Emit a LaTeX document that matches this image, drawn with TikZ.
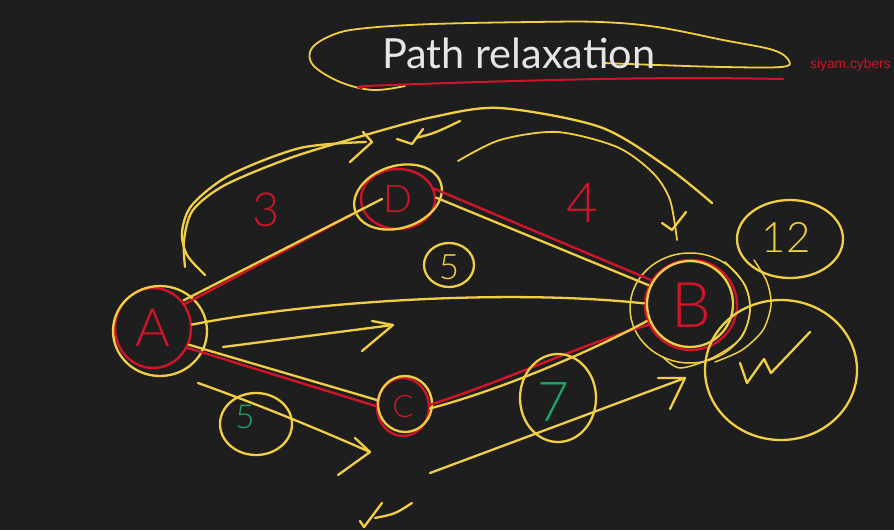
\documentclass[tikz,border=0pt]{standalone}
\usepackage{fontspec}
\usetikzlibrary{shapes.geometric}
\setmainfont{Lato}
\newfontfamily\hand{Lato Light}
\newfontfamily\wmfont{Liberation Sans}
\definecolor{bg}{HTML}{1E1E1E}
\definecolor{yel}{HTML}{F0CF45}
\definecolor{rd}{HTML}{D0142A}
\definecolor{grn}{HTML}{1FA468}
\definecolor{ttl}{HTML}{E6E6E6}
\begin{document}
\begin{tikzpicture}[x=1pt,y=-1pt,line cap=round,line join=round,
  ypen/.style={draw=yel,line width=2.3pt},
  ythin/.style={draw=yel,line width=1.5pt},
  rpen/.style={draw=rd,line width=2.4pt},
  vtx/.style={ellipse,draw=rd,line width=2.4pt,text=rd,inner sep=0pt},
  lbl/.style={inner sep=0pt}]
\fill[bg] (0,0) rectangle (894,530);
\useasboundingbox (0,0) rectangle (894,530);

% title
\draw[ythin,line width=1.8pt] plot[smooth,tension=0.6] coordinates {(405,86) (373,90) (340,82) (313,65) (312,48) (335,34) (367,28) (433,24) (533,22) (600,22) (657,27) (723,40) (773,50) (789,61) (781,67) (723,67) (657,65) (603,63)};
\draw[rpen,line width=2pt] plot[smooth] coordinates {(362,88) (367,86) (480,82) (600,79) (700,78) (783,79)};
\node[lbl,anchor=base west,text=ttl,font=\fontsize{41.5}{41.5}\selectfont] (title) at (382,68) {Path relaxation};
\node[lbl,anchor=base west,text=rd,font=\wmfont\fontsize{13.8}{13.8}\selectfont] (wm) at (810,68) {siyam.cybers};

% vertices
\node[vtx,minimum width=76pt,minimum height=80pt,font=\hand\fontsize{53}{53}\selectfont] (A) at (153,328) {A};
\node[vtx,minimum width=74pt,minimum height=60pt,font=\hand\fontsize{38}{38}\selectfont] (D) at (398,199) {D};
\node[vtx,minimum width=52pt,minimum height=58pt,font=\hand\fontsize{31}{31}\selectfont] (C) at (403,407) {C};
\node[vtx,minimum width=92pt,minimum height=90pt,font=\hand\fontsize{63}{63}\selectfont] (B) at (691,305) {B};

% yellow rings around vertices
\draw[ypen] (160,331) ellipse [x radius=47pt,y radius=45pt];
\draw[ypen,rotate around={18:(398,197)}] (398,197) ellipse [x radius=45pt,y radius=31pt];
\draw[ypen] (405,404) ellipse [x radius=27pt,y radius=28pt];
\draw[ypen] (690,304) ellipse [x radius=43pt,y radius=43pt];
\draw[ythin] (690,308) ellipse [x radius=60pt,y radius=55pt];
\draw[ythin] plot[smooth] coordinates {(725,262) (745,285) (750,310) (741,338) (712,358) (680,368) (663,357)};
\draw[ythin] plot[smooth] coordinates {(754,260) (767,282) (771,305) (763,330) (742,350) (715,362)};

% edges
\draw[rpen] (A.37) -- (D.196);
\draw[ypen] ([yshift=2pt]A.40) -- ([xshift=-16pt]D.center);
\draw[rpen] (D.16) -- (B.148);
\draw[ypen] (D.2) -- (B.155);
\draw[ypen] (A.5) .. controls (300,303) and (500,288) .. (B.178);
\draw[rpen] (A.-30) -- (C.178);
\draw[ypen] (A.-25) -- (C.165);
\draw[rpen] (C.5) .. controls (500,383) and (580,345) .. (B.205);
\draw[ypen] (C.-3) .. controls (500,390) and (590,352) .. (B.200);

% weights
\node[lbl,text=rd,font=\hand\fontsize{47}{47}\selectfont] (w3) at (266,210) {3};
\node[lbl,text=rd,font=\hand\fontsize{55}{55}\selectfont] (w4) at (582,203) {4};
\node[lbl,text=yel,font=\hand\fontsize{35}{35}\selectfont] (w5a) at (449,267) {5};
\draw[ypen] (449,265) ellipse [x radius=25pt,y radius=22pt];
\node[lbl,text=grn,font=\hand\fontsize{33}{33}\selectfont] (w5b) at (245,417) {5};
\draw[ypen] (256,424) ellipse [x radius=36pt,y radius=31pt];
\node[lbl,text=grn,font=\hand\fontsize{55}{55}\selectfont] (w7) at (553,402) {7};
\draw[ypen] (558,398) ellipse [x radius=38pt,y radius=44pt];
\node[lbl,text=yel,font=\hand\fontsize{42}{42}\selectfont] (w12) at (786,237) {12};
\draw[ypen] (790,239) ellipse [x radius=53pt,y radius=39pt];
\draw[ypen] (781,370) ellipse [x radius=76pt,y radius=70pt];
\draw[ypen] (740,363) -- (747,383) -- (764,359) -- (771,373) -- (810,332);

% arrows
\draw[ypen] (223,347) -- (393,325);
\draw[ypen] (372,321) -- (393,325) -- (362,351);
\draw[ypen] (198,383) .. controls (260,405) and (320,430) .. (370,452);
\draw[ypen] (355,438) -- (370,452) -- (338,475);
\draw[ypen] (430,473) -- (685,378);
\draw[ypen] (658,378) -- (685,378) -- (670,409);

% top arcs
\draw[ypen] plot[smooth] coordinates {(205,275) (187,255) (182,232) (192,205) (230,175) (300,148) (366,142)};
\draw[ypen] (363,132) -- (372,142) -- (350,162);
\draw[ypen] plot[smooth] coordinates {(185,267) (184,240) (193,210) (225,185) (290,158) (362,136) (433,117) (500,108) (600,127) (667,167) (712,203)};
\draw[ythin,line width=1.8pt] plot[smooth] coordinates {(458,161) (500,140) (557,132) (617,147) (653,173) (670,200) (677,240)};
\draw[ypen] (662,223) -- (672,230) -- (686,212);

% ticks
\draw[ypen] (397,139) -- (412,144) -- (423,129);
\draw[ypen] (416,138) .. controls (435,133) .. (460,121);
\draw[ypen] (360,521) -- (364,527) -- (382,503);
\draw[ypen] (375,518) .. controls (395,514) .. (412,503);
\end{tikzpicture}
\end{document}
